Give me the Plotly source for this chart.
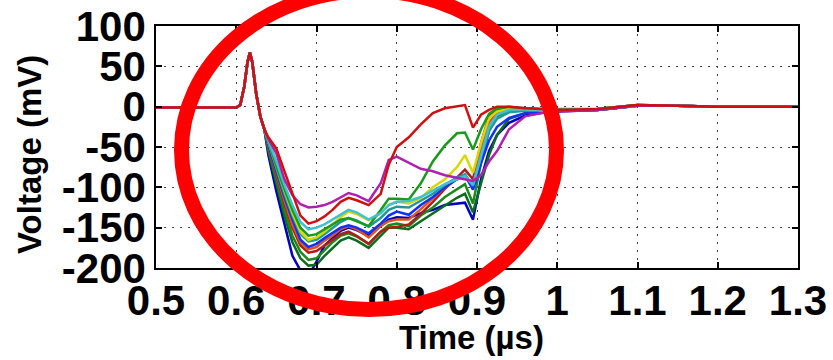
import plotly.graph_objects as go

# ---------------- data ----------------
time_us = [0.50, 0.55, 0.60, 0.605, 0.61, 0.614, 0.617, 0.62, 0.625, 0.63, 0.635,
           0.64, 0.65, 0.66, 0.67, 0.68, 0.69,
           0.70, 0.71, 0.72, 0.73, 0.74, 0.75,
           0.765, 0.78, 0.79, 0.80,
           0.815, 0.83, 0.845, 0.86,
           0.875, 0.885, 0.895, 0.905,
           0.915, 0.925, 0.94, 0.96,
           0.98, 1.00, 1.05, 1.10,
           1.15, 1.20, 1.30]

spike = [-1, -1, -1, 2, 25, 55, 67, 55, 15, -12, -28]

blue_deep = spike + [-60, -105, -145, -185, -203, -210,
                     -192, -172, -163, -154, -150, -153,
                     -160, -148, -140, -137,
                     -138, -132, -128, -122,
                     -120, -119, -140, -90,
                     -55, -35, -20, -11,
                     -8, -6, -4, 1,
                     1, 0, 0]
dark_green = spike + [-55, -95, -135, -168, -188, -197,
                      -196, -185, -175, -166, -162, -166,
                      -175, -160, -150, -150,
                      -152, -142, -132, -122,
                      -113, -108, -131, -95,
                      -60, -35, -15, -8,
                      -6, -5, -4, 1,
                      1, 0, 0]
green_mid = spike + [-52, -90, -128, -160, -180, -190,
                     -188, -178, -168, -160, -157, -161,
                     -170, -155, -147, -145,
                     -148, -135, -125, -112,
                     -102, -96, -120, -70,
                     -30, -12, -4, -3,
                     -4, -4, -3, 2,
                     1, 0, 0]
red_dark = spike + [-50, -86, -120, -150, -172, -181,
                    -179, -172, -165, -158, -155, -160,
                    -170, -155, -150, -149,
                    -146, -133, -118, -102,
                    -88, -78, -90, -45,
                    -12, -4, -1, -2,
                    -3, -4, -3, 2,
                    1, 0, 0]
orange = spike + [-48, -82, -116, -146, -168, -177,
                  -174, -166, -160, -152, -148, -152,
                  -162, -148, -142, -140,
                  -140, -127, -114, -100,
                  -90, -84, -100, -55,
                  -20, -7, -3, -3,
                  -4, -4, -3, 1,
                  1, 0, 0]
blue_mid = spike + [-48, -80, -112, -140, -165, -174,
                    -170, -163, -157, -150, -147, -150,
                    -157, -145, -135, -130,
                    -134, -122, -112, -100,
                    -90, -85, -103, -70,
                    -42, -25, -14, -8,
                    -6, -5, -4, 1,
                    1, 0, 0]
teal = spike + [-46, -78, -108, -135, -158, -167,
                -165, -158, -151, -143, -138, -141,
                -149, -138, -128, -124,
                -125, -117, -108, -97,
                -88, -84, -98, -62,
                -30, -15, -7, -5,
                -5, -5, -4, 1,
                1, 0, 0]
yellow = spike + [-44, -74, -104, -132, -155, -165,
                  -162, -155, -146, -137, -130, -133,
                  -141, -132, -122, -118,
                  -120, -113, -100, -90,
                  -75, -60, -82, -45,
                  -14, -6, -3, -3,
                  -4, -4, -3, 1,
                  1, 0, 0]
green_bright = spike + [-45, -74, -102, -128, -150, -160,
                        -158, -152, -146, -140, -138, -142,
                        -148, -128, -114, -114,
                        -115, -95, -68, -48,
                        -33, -32, -53, -28,
                        -9, -2, 0, -2,
                        -3, -3, -3, 2,
                        1, 0, 0]
cyan = spike + [-42, -68, -97, -122, -143, -152,
                -150, -146, -140, -133, -128, -131,
                -140, -132, -122, -118,
                -117, -112, -104, -96,
                -90, -86, -97, -60,
                -25, -10, -4, -3,
                -4, -4, -3, 1,
                1, 0, 0]
magenta = spike + [-40, -58, -90, -110, -121, -125,
                   -124, -122, -118, -112, -107, -110,
                   -117, -95, -66, -62,
                   -69, -77, -80, -85,
                   -88, -90, -92, -85,
                   -68, -55, -28, -12,
                   -8, -6, -4, 1,
                   1, 0, 0]
red_top = spike + [-38, -52, -80, -108, -135, -145,
                   -142, -136, -128, -118, -113, -116,
                   -122, -108, -72, -50,
                   -38, -22, -8, -2,
                   0, 2, -26, -10,
                   -4, 0, 0, -2,
                   -3, -4, -3, 2,
                   1, 0, 0]

series = [
    ("blue deep", blue_deep, "#0000c0"),
    ("dark green", dark_green, "#0b6b1f"),
    ("green", green_mid, "#1b8a1b"),
    ("dark red", red_dark, "#b01c1c"),
    ("orange", orange, "#e0561a"),
    ("blue", blue_mid, "#1030ff"),
    ("teal", teal, "#1f9a9a"),
    ("yellow", yellow, "#d8d800"),
    ("bright green", green_bright, "#1a9a1a"),
    ("cyan", cyan, "#40c0d0"),
    ("magenta", magenta, "#b020b0"),
    ("red", red_top, "#d01010"),
]

x_tick_vals = [0.5, 0.6, 0.7, 0.8, 0.9, 1.0, 1.1, 1.2, 1.3]
x_tick_text = ["0.5", "0.6", "0.7", "0.8", "0.9", "1", "1.1", "1.2", "1.3"]
y_tick_vals = [-200, -150, -100, -50, 0, 50, 100]
y_tick_text = ["-200", "-150", "-100", "-50", "0", "50", "100"]

# ---------------- figure ----------------
fig = go.Figure()
for name, vals, col in series:
    fig.add_trace(go.Scatter(x=time_us, y=vals, mode="lines", name=name,
                             line=dict(color=col, width=2.5)))

W, H = 833, 360
L, R, T, B = 156, 35, 26, 92
pw, ph = W - L - R, H - T - B

def px(xp):
    return (xp - L) / pw

def py(yp):
    return (H - B - yp) / ph

tick_font = dict(family="Liberation Sans, Arial", size=42, color="black", weight="bold")
title_font = dict(family="Liberation Sans, Arial", size=33, color="black", weight="bold")

axis_common = dict(
    showline=True, linecolor="black", linewidth=1.5, mirror="ticks",
    ticks="inside", ticklen=6, tickcolor="black", tickwidth=1.5,
    showgrid=True, gridcolor="#444444", gridwidth=1.2, griddash="2px,6px",
    zeroline=False, automargin=False,
    tickfont=tick_font,
)

fig.update_layout(
    width=W, height=H,
    margin=dict(l=L, r=R, t=T, b=B),
    paper_bgcolor="white", plot_bgcolor="white",
    showlegend=False,
    xaxis=dict(range=[0.5, 1.3], tickvals=x_tick_vals, ticktext=x_tick_text,
               ticklabelstandoff=-5, **axis_common),
    yaxis=dict(range=[-200, 100], tickvals=y_tick_vals, ticktext=y_tick_text,
               **axis_common),
    annotations=[
        dict(text="Time (µs)", xref="paper", yref="paper",
             x=px(471), y=py(337), xanchor="center", yanchor="middle",
             showarrow=False, font=title_font),
        dict(text="Voltage (mV)", xref="paper", yref="paper",
             x=px(29), y=py(155), xanchor="center", yanchor="middle",
             textangle=-90, showarrow=False, font=title_font),
    ],
    shapes=[dict(type="circle", xref="paper", yref="paper",
                 x0=px(181.5), x1=px(556.5), y0=py(309.5), y1=py(-9.5),
                 line=dict(color="#ff0000", width=15), layer="above")],
)

fig.write_html("out.html")
